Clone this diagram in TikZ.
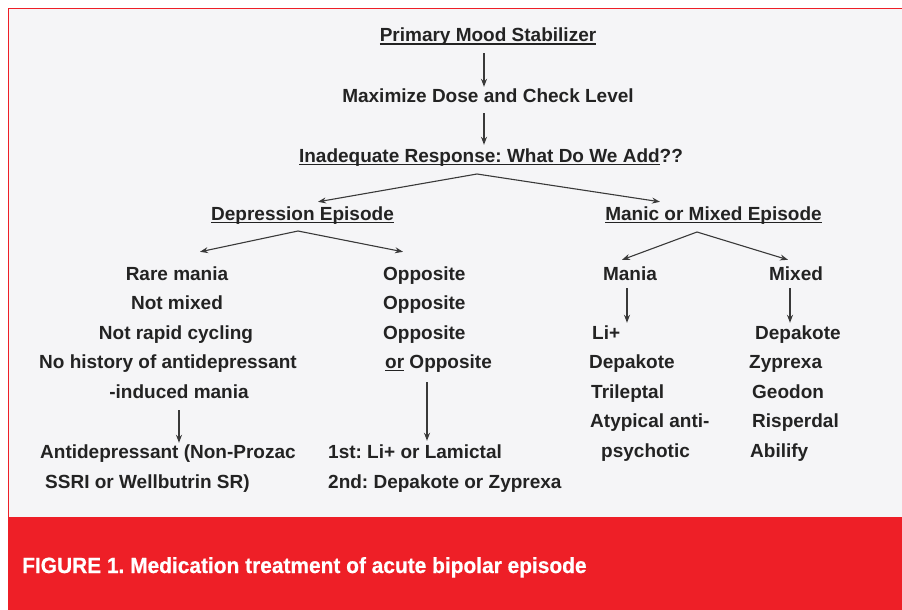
\documentclass[tikz,border=0pt]{standalone}
\usepackage{fontspec}
\setmainfont{Liberation Sans}
\newfontfamily\capfont[FakeStretch=0.95,FakeBold=0.6]{Liberation Sans}
\usetikzlibrary{positioning, arrows.meta, calc}
\definecolor{figred}{RGB}{238,31,39}
\definecolor{panel}{RGB}{245,245,247}
\definecolor{ink}{RGB}{35,35,35}
\newcommand{\undl}[1]{\setbox0\hbox{#1}\rlap{\rule[-2.6pt]{\wd0}{1.1pt}}\box0\relax}
\frenchspacing

\begin{document}
\begin{tikzpicture}[
        x=1pt, y=-1pt,
        >={Stealth[length=8pt,width=6pt]},
        arr/.style={->, draw=ink!90, line width=1.1pt},
        txt/.style={inner sep=0pt, text=ink, font=\fontsize{19}{22}\selectfont\bfseries,
                    text height=14pt, text depth=4pt},
    ]
    \useasboundingbox (0,0) rectangle (902,610);

    % Panel and caption band
    \fill[panel] (8,9) rectangle (902,517);
    \draw[figred, line width=1pt] (902,9) -- (8,9) -- (8,517);
    \fill[figred] (8,517) rectangle (902,610);
    \node[anchor=base west, inner sep=0pt, text=white,
          font=\capfont\fontsize{22}{26}\selectfont\bfseries] (caption) at (22,573)
          {FIGURE 1. Medication treatment of acute bipolar episode};

    % Main line
    \node[txt, anchor=base] (prim) at (488,42) {\undl{Primary Mood Stabilizer}};
    \node[txt, anchor=base] (maxd) at (488,102) {Maximize Dose and Check Level};
    \node[txt, anchor=base] (inad) at (491,162) {\undl{Inadequate Response: What Do We Add}??};
    \node[txt, anchor=base] (dep) at (302.5,220) {\undl{Depression Episode}};
    \node[txt, anchor=base] (man) at (713.5,220) {\undl{Manic or Mixed Episode}};

    % Depression branch
    \foreach \txt/\x [count=\i] in {Rare mania/177, Not mixed/177, Not rapid cycling/176,
            No history of antidepressant/168, -induced mania/179}
        \node[txt, anchor=base] (crit-\i) at (\x, 250.5+29.5*\i) {\txt};
    \node[txt, anchor=base west] (anti-1) at (40,458) {Antidepressant (Non-Prozac};
    \node[txt, anchor=base west] (anti-2) at (45,488) {SSRI or Wellbutrin SR)};

    \foreach \i in {1,2,3}
        \node[txt, anchor=base west] (opp-\i) at (383, 250.5+29.5*\i) {Opposite};
    \node[txt, anchor=base west] (opp-4) at (385,368.5) {\undl{or} Opposite};
    \node[txt, anchor=base west] (line-1) at (328,458) {1st: Li+ or Lamictal};
    \node[txt, anchor=base west] (line-2) at (328,488) {2nd: Depakote or Zyprexa};

    % Manic or mixed branch
    \node[txt, anchor=base] (mania) at (630,280) {Mania};
    \node[txt, anchor=base] (mixed) at (796,280) {Mixed};
    \foreach \txt/\x [count=\i] in {Li+/592, Depakote/589, Trileptal/591,
            Atypical anti-/590, psychotic/601}
        \node[txt, anchor=base west] (mli-\i) at (\x, 309.5+29.5*\i) {\txt};
    \foreach \txt/\x [count=\i] in {Depakote/755, Zyprexa/749, Geodon/752,
            Risperdal/752, Abilify/750}
        \node[txt, anchor=base west] (mxl-\i) at (\x, 309.5+29.5*\i) {\txt};

    % Straight arrows
    \draw[arr, shorten <=7pt, shorten >=1pt] ([xshift=-4pt]prim.south) -- ([xshift=-4pt]prim.south |- maxd.north);
    \draw[arr, shorten <=7pt, shorten >=3pt] ([xshift=-4pt]maxd.south) -- ([xshift=-4pt]maxd.south |- inad.north);
    \draw[arr, shorten <=8pt, shorten >=1pt] (crit-5.south) -- (crit-5.south |- anti-1.north);
    \draw[arr, shorten <=9.5pt, shorten >=3pt] ([xshift=42pt]opp-4.south west) -- ([xshift=42pt]opp-4.south west |- line-1.north);
    \draw[arr, shorten <=4pt, shorten >=2pt] ([xshift=-3pt]mania.south) -- ([xshift=-3pt]mania.south |- mli-1.north);
    \draw[arr, shorten <=4pt, shorten >=2pt] ([xshift=-6pt]mixed.south) -- ([xshift=-6pt]mixed.south |- mxl-1.north);

    % Splits
    \coordinate (split-0) at (477,174);
    \coordinate (split-1) at (298,231);
    \coordinate (split-2) at (697,232);
    \draw[arr] (split-0) -- ([xshift=15.5pt,yshift=4pt]dep.north);
    \draw[arr] (split-0) -- ([xshift=-53.5pt,yshift=4pt]man.north);
    \draw[arr] (split-1) -- ([xshift=23pt,yshift=14pt]crit-1.north);
    \draw[arr] (split-1) -- ([xshift=20pt,yshift=14pt]opp-1.north west);
    \draw[arr] (split-2) -- ([xshift=-8pt,yshift=6pt]mania.north);
    \draw[arr] (split-2) -- ([xshift=-8pt,yshift=6pt]mixed.north);
\end{tikzpicture}
\end{document}
